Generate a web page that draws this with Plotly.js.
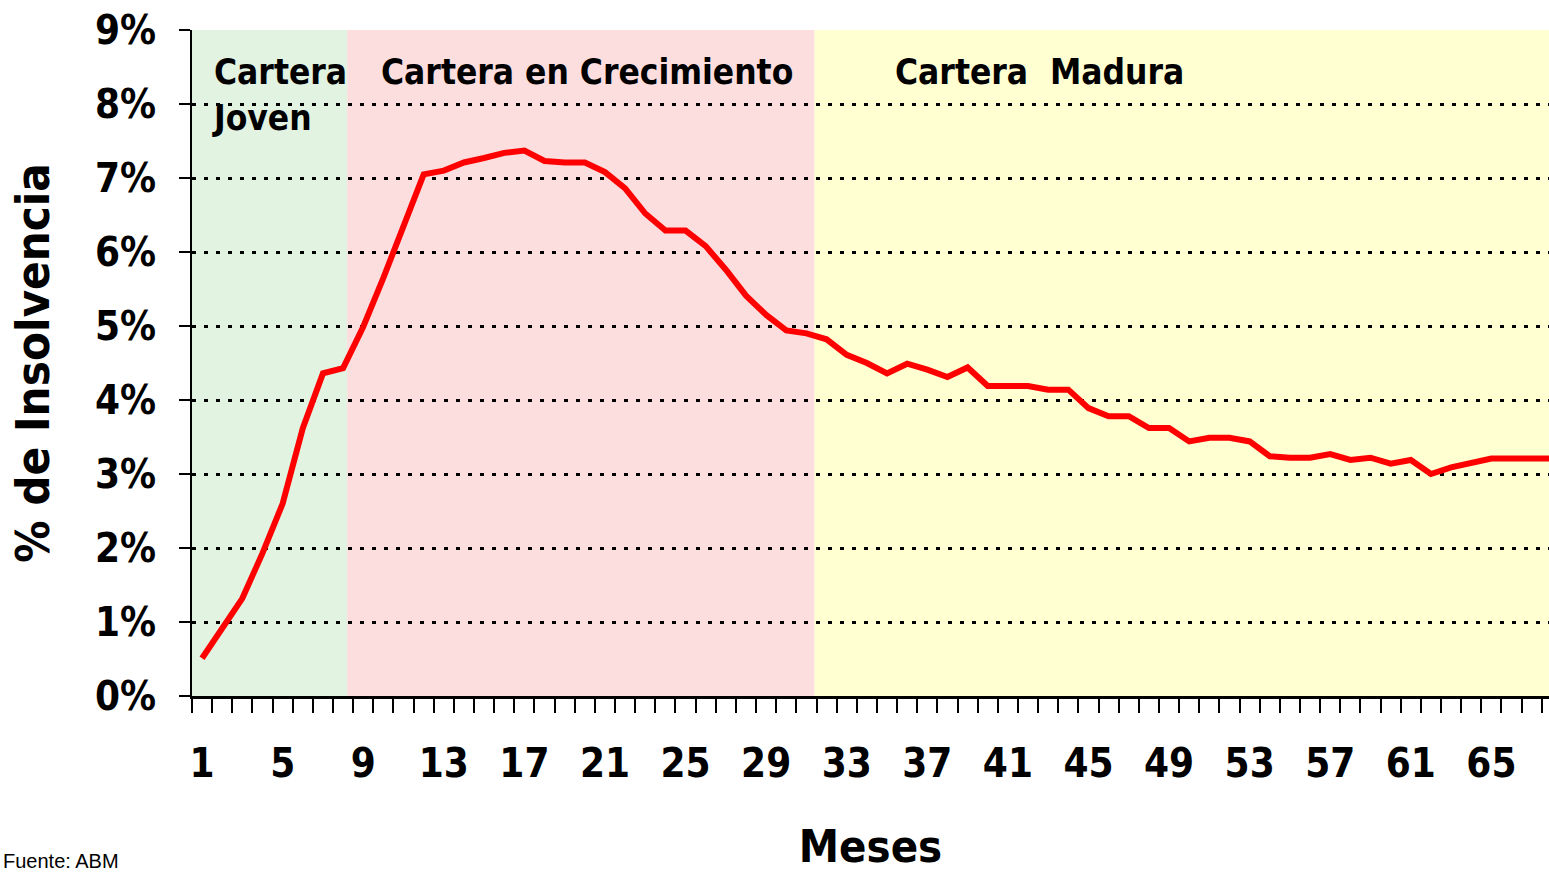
<!DOCTYPE html>
<html>
<head>
<meta charset="utf-8">
<script src="https://cdn.plot.ly/plotly-3.0.1.min.js"></script>
<style>
  html, body { margin: 0; padding: 0; background: #fff; }
  #chart { width: 1549px; height: 873px; }
</style>
</head>
<body>
<div id="chart"></div>
<script>
// ---- Data ----
const months = [];
for (let m = 1; m <= 68; m++) months.push(m);

const insolvency = [
  0.51, 0.91, 1.32, 1.93, 2.60, 3.62, 4.36, 4.43, 4.99, 5.65,
  6.35, 7.05, 7.10, 7.21, 7.27, 7.34, 7.37, 7.23, 7.21, 7.21,
  7.08, 6.86, 6.52, 6.29, 6.29, 6.08, 5.76, 5.41, 5.15, 4.94,
  4.90, 4.82, 4.61, 4.50, 4.36, 4.49, 4.41, 4.31, 4.44, 4.19,
  4.19, 4.19, 4.14, 4.14, 3.89, 3.78, 3.78, 3.62, 3.62, 3.44,
  3.49, 3.49, 3.44, 3.24, 3.22, 3.22, 3.27, 3.19, 3.22, 3.14,
  3.19, 3.00, 3.09, 3.14, 3.21, 3.21, 3.21, 3.21
];

const xTickVals = [1, 5, 9, 13, 17, 21, 25, 29, 33, 37, 41, 45, 49, 53, 57, 61, 65];
const xTickText = xTickVals.map(String);
const yTickVals = [0, 1, 2, 3, 4, 5, 6, 7, 8, 9];
const yTickText = yTickVals.map(v => v + '%');

const phaseNames = ['Cartera<br>Joven', 'Cartera en Crecimiento', 'Cartera\u00a0\u00a0Madura'];
const phaseStart = [0.5, 8.2, 31.4];
const phaseEnd = [8.2, 31.4, 68.5];
const phaseColors = ['#e2f3e2', '#fcdede', '#ffffd2'];

// ---- Chart ----
const FONT = 'DejaVu Sans Condensed, DejaVu Sans, sans-serif';

const shapes = phaseStart.map((s, i) => ({
  type: 'rect', xref: 'x', yref: 'paper',
  x0: s, x1: phaseEnd[i], y0: 0, y1: 1,
  fillcolor: phaseColors[i], line: { width: 0 }, layer: 'below'
}));

const annPos = [
  { x: 0.0135, y: 0.902 },
  { x: 0.1375, y: 0.937 },
  { x: 0.5165, y: 0.937 }
];
const annotations = phaseNames.map((t, i) => ({
  text: t, xref: 'paper', yref: 'paper',
  x: annPos[i].x, y: annPos[i].y, xanchor: 'left', yanchor: 'middle',
  align: 'left', showarrow: false,
  font: { family: FONT, size: 35, color: '#000', weight: 'bold' }
}));
annotations.push({
  text: 'Fuente: ABM', xref: 'paper', yref: 'paper',
  x: -0.141, y: -0.248, xanchor: 'left', yanchor: 'middle',
  showarrow: false, font: { family: 'Liberation Sans, Arial, sans-serif', size: 20, color: '#000' }
});

const trace = {
  x: months, y: insolvency, type: 'scatter', mode: 'lines',
  line: { color: '#ff0000', width: 6 },
  hoverinfo: 'skip'
};

const layout = {
  width: 1549, height: 873,
  margin: { l: 192, r: 0, t: 30, b: 177 },
  paper_bgcolor: '#ffffff', plot_bgcolor: '#ffffff',
  showlegend: false,
  shapes: shapes,
  annotations: annotations,
  xaxis: {
    range: [0.5, 67.86],
    tickmode: 'array', tickvals: xTickVals, ticktext: xTickText,
    ticks: '', showgrid: false, zeroline: false,
    showline: true, linecolor: '#000', linewidth: 3,
    ticklabelstandoff: 30,
    minor: { tick0: 0.5, dtick: 1, ticks: 'outside', ticklen: 14, tickwidth: 2, tickcolor: '#000', showgrid: false },
    tickfont: { family: FONT, size: 40, color: '#000', weight: 'bold' },
    title: { text: 'Meses', standoff: 52, font: { family: FONT, size: 45, color: '#000', weight: 'bold' } },
    fixedrange: true
  },
  yaxis: {
    range: [0, 9],
    tickmode: 'array', tickvals: yTickVals, ticktext: yTickText,
    ticks: 'outside', ticklen: 11, tickwidth: 2, tickcolor: '#000',
    showline: true, linecolor: '#000', linewidth: 2,
    showgrid: true, gridcolor: '#000', gridwidth: 3, griddash: '4px,8px',
    zeroline: false,
    ticklabelstandoff: 15,
    tickfont: { family: FONT, size: 40, color: '#000', weight: 'bold' },
    title: { text: '% de Insolvencia', standoff: 30, font: { family: FONT, size: 47, color: '#000', weight: 'bold' } },
    fixedrange: true
  }
};

Plotly.newPlot('chart', [trace], layout, { displayModeBar: false, staticPlot: true });
</script>
</body>
</html>
